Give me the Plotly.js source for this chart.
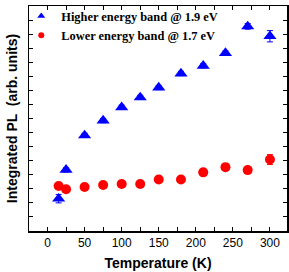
<!DOCTYPE html>
<html><head><meta charset="utf-8">
<script src="https://cdn.plot.ly/plotly-3.0.1.min.js"></script>
<style>html,body{margin:0;padding:0;background:#fff}#plot{width:289px;height:272px}</style>
</head><body><div id="plot"></div>
<script>
const temps = [15, 25, 50, 75, 100, 125, 150, 180, 210, 240, 270, 300];
const higherBand = [2.3, 4.35, 6.8, 7.85, 8.8, 9.5, 10.2, 11.2, 11.75, 12.65, 14.55, 13.85];
const higherErr = [0.3, 0.15, 0.15, 0.15, 0.15, 0.15, 0.15, 0.15, 0.15, 0.15, 0.2, 0.4];
const lowerBand = [3.2, 2.97, 3.13, 3.27, 3.34, 3.34, 3.66, 3.66, 4.17, 4.54, 4.33, 5.08];
const lowerErr = [0.2, 0.1, 0.1, 0.1, 0.1, 0.1, 0.1, 0.1, 0.1, 0.15, 0.1, 0.35];
const xTicks = [0, 50, 100, 150, 200, 250, 300];
const higherName = "Higher energy band @ 1.9 eV";
const lowerName = "Lower energy band @ 1.7 eV";

const traces = [
  {x: temps, y: higherBand, name: higherName, type: 'scatter', mode: 'markers', showlegend: false,
   marker: {symbol: 'triangle-up', size: 11.5, color: '#0000ff'},
   error_y: {type: 'data', array: higherErr, color: '#0000ff', thickness: 1, width: 3}},
  {x: temps, y: lowerBand, name: lowerName, type: 'scatter', mode: 'markers', showlegend: false,
   marker: {symbol: 'circle', size: 10, color: '#ff0000'},
   error_y: {type: 'data', array: lowerErr, color: '#ff0000', thickness: 1, width: 3}},
  // legend-only entries with small symbols, as in the reference
  {x: [null], y: [null], name: higherName, type: 'scatter', mode: 'markers',
   marker: {symbol: 'triangle-up', size: 7, color: '#0000ff'}},
  {x: [null], y: [null], name: lowerName, type: 'scatter', mode: 'markers',
   marker: {symbol: 'circle', size: 6, color: '#ff0000'}}
];

const layout = {
  width: 289, height: 272,
  margin: {l: 29, r: 2, t: 1, b: 41},
  paper_bgcolor: '#fff', plot_bgcolor: '#fff',
  showlegend: true,
  legend: {x: -0.03, y: 1.02, xanchor: 'left', yanchor: 'top', bgcolor: 'rgba(0,0,0,0)',
    font: {family: 'Liberation Serif', size: 12.4, color: '#000', weight: 'bold'},
    itemwidth: 30, tracegroupgap: 4},
  xaxis: {range: [-25, 323], tickvals: xTicks, ticktext: xTicks.map(String),
    ticks: 'inside', ticklen: 4, tickwidth: 1, tickcolor: '#000',
    minor: {dtick: 25, tick0: 0, ticks: 'inside', ticklen: 4, tickwidth: 1, tickcolor: '#000'},
    showline: true, linecolor: '#000', linewidth: 1.5, mirror: 'ticks',
    showgrid: false, zeroline: false,
    tickfont: {family: 'Liberation Sans', size: 12, color: '#000'},
    title: {text: 'Temperature (K)', standoff: 9, font: {family: 'Liberation Sans', size: 14, color: '#000', weight: 'bold'}}},
  yaxis: {range: [0, 16], dtick: 1, tick0: 0, showticklabels: false,
    ticks: 'inside', ticklen: 4, tickwidth: 1, tickcolor: '#000',
    showline: true, linecolor: '#000', linewidth: 1.5, mirror: 'ticks',
    showgrid: false, zeroline: false,
    title: {text: 'Integrated PL  (arb. units)', standoff: 6, font: {family: 'Liberation Sans', size: 14, color: '#000', weight: 'bold'}}}
};
Plotly.newPlot('plot', traces, layout, {displayModeBar: false, staticPlot: true});
</script></body></html>
